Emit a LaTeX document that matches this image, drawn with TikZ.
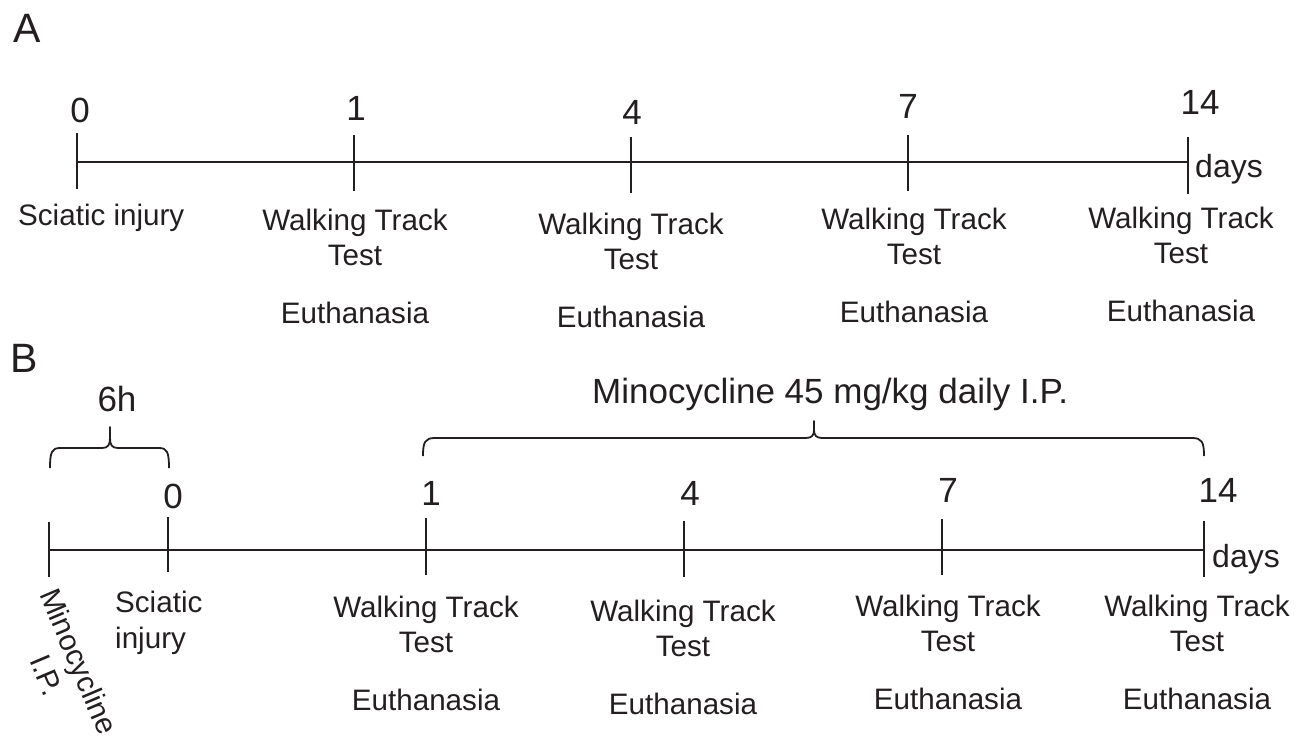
\documentclass[tikz,border=0pt]{standalone}
\usepackage{fontspec}
\setmainfont{Liberation Sans}
\definecolor{ink}{HTML}{231F20}
\begin{document}
\begin{tikzpicture}[x=1pt,y=-1pt,
  tk/.style={draw=ink, line width=1.8pt},
  brace/.style={draw=ink, line width=1.8pt, line join=round},
  num/.style={font=\fontsize{35}{42}\selectfont, text=ink, inner sep=0pt, anchor=base},
  lbl/.style={font=\fontsize{29.6}{35}\selectfont, text=ink, inner sep=0pt, anchor=base},
  unit/.style={font=\fontsize{32}{38}\selectfont, text=ink, inner sep=0pt, anchor=base west},
  plabel/.style={font=\fontsize{41}{48}\selectfont, text=ink, inner sep=0pt, anchor=base west}]
\useasboundingbox (0,0) rectangle (1304,737);

% ---------------- Panel A ----------------
\node[plabel] (pA) at (13,42) {A};
\foreach \n/\x/\t/\b in {0/77/133/189, 1/354/135/191, 4/631/137/193, 7/908/135/191, 14/1188/137/194}{
  \coordinate (A\n) at (\x,162);
  \draw[tk] (\x,\t) -- (\x,\b);
}
\draw[tk] (A0) -- (A14);
\node[num] (nA0) at (80,122) {0};
\node[num] (nA1) at (356,120) {1};
\node[num] (nA4) at (632,124) {4};
\node[num] (nA7) at (908,118) {7};
\node[num] (nA14) at (1200,114) {14};
\node[unit] (dA) at (1195,177) {days};
\node[lbl, anchor=base west] (sA) at (18,225) {Sciatic injury};
\foreach \k/\x/\b in {1/355/230, 4/631/234, 7/914/229, 14/1181/228}{
  \node[lbl] (wA\k) at (\x,\b) {Walking Track};
  \node[lbl] (tA\k) at (\x,\b+35) {Test};
  \node[lbl] (eA\k) at (\x,\b+93) {Euthanasia};
}

% ---------------- Panel B ----------------
\node[plabel] (pB) at (10,372) {B};
\foreach \n/\x/\t/\b in {m/49/522/577, 0/168/517/572, 1/426/518/575, 4/684/521/577, 7/942/519/575, 14/1204/521/577}{
  \coordinate (B\n) at (\x,550);
  \draw[tk] (\x,\t) -- (\x,\b);
}
\draw[tk] (Bm) -- (B14);
\node[num] (nB0) at (173,508) {0};
\node[num] (nB1) at (431,505) {1};
\node[num] (nB4) at (690,505) {4};
\node[num] (nB7) at (948,502) {7};
\node[num] (nB14) at (1218,502) {14};
\node[unit] (dB) at (1212,567) {days};

% small brace (6h)
\draw[brace] (50,468) .. controls (50,452) and (52,448) .. (60,448) -- (102,448)
  .. controls (108,448) and (110,445) .. (110,438) -- (110,427) -- (110,438)
  .. controls (110,445) and (112,448) .. (118,448) -- (159,448)
  .. controls (167,448) and (169,452) .. (169,468);
\node[num] (h6) at (117,411) {6h};

% large brace (Minocycline daily)
\draw[brace] (423,456) .. controls (423,442) and (425,438) .. (435,438) -- (806,438)
  .. controls (812,438) and (814,435) .. (814,430) -- (814,421) -- (814,430)
  .. controls (814,435) and (816,438) .. (822,438) -- (1192,438)
  .. controls (1202,438) and (1204,442) .. (1204,456);
\node[num, anchor=base west] (mino) at (592,403) {Minocycline 45 mg/kg daily I.P.};

\node[lbl, anchor=base west] (sB1) at (115,612) {Sciatic};
\node[lbl, anchor=base west] (sB2) at (115,648) {injury};
\node[lbl, anchor=center, rotate=-67, align=center] (mip) at (63,668) {Minocycline\\I.P.};

\foreach \k/\x/\b in {1/426/617, 4/683/621, 7/948/616, 14/1197/616}{
  \node[lbl] (wB\k) at (\x,\b) {Walking Track};
  \node[lbl] (tB\k) at (\x,\b+35) {Test};
  \node[lbl] (eB\k) at (\x,\b+93) {Euthanasia};
}
\end{tikzpicture}
\end{document}
